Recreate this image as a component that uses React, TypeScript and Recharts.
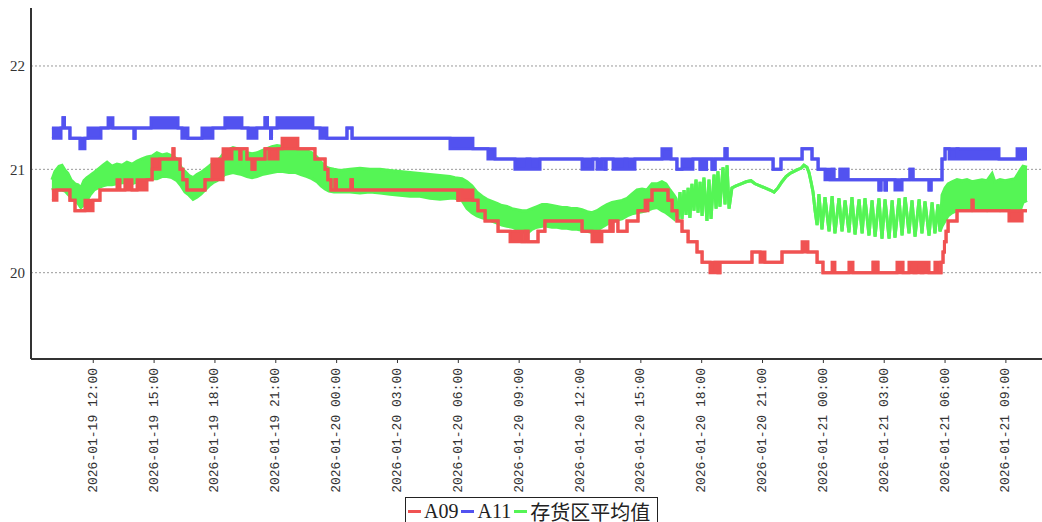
import React from "react";
import { ComposedChart, Area, XAxis, YAxis, CartesianGrid } from "recharts";

// time axis is hours counted from 2026-01-19 00:00
const xTicks = [12, 15, 18, 21, 24, 27, 30, 33, 36, 39, 42, 45, 48, 51, 54, 57];
const xTickLabels = [
  "2026-01-19 12:00", "2026-01-19 15:00", "2026-01-19 18:00", "2026-01-19 21:00",
  "2026-01-20 00:00", "2026-01-20 03:00", "2026-01-20 06:00", "2026-01-20 09:00",
  "2026-01-20 12:00", "2026-01-20 15:00", "2026-01-20 18:00", "2026-01-20 21:00",
  "2026-01-21 00:00", "2026-01-21 03:00", "2026-01-21 06:00", "2026-01-21 09:00",
];
const yTicks = [20, 21, 22];

// [hour, low, high?] – high missing means a plain line at low,
// low/high pairs are the stretches where the reading flips quickly between two values
const a09: number[][] = [
  [9.96, 20.7, 20.8], [10.21, 20.8], [10.85, 20.7], [11.1, 20.6], [11.59, 20.6, 20.7],
  [11.99, 20.7], [12.33, 20.8], [13.17, 20.8, 20.9], [13.32, 20.8], [13.56, 20.8, 20.9],
  [13.91, 20.8], [14.16, 20.8, 20.9], [14.65, 20.9], [14.9, 21.0, 21.1], [15.29, 21.1],
  [15.93, 21.2], [15.98, 21.1], [16.28, 21.0], [16.42, 20.9], [16.62, 20.8],
  [17.51, 20.9], [17.85, 20.9, 21.1], [18.4, 21.1, 21.2], [18.84, 21.2], [19.23, 21.1],
  [19.28, 21.2], [19.58, 21.1], [19.83, 21.0], [19.97, 21.1], [20.47, 21.2],
  [20.66, 21.1, 21.2], [21.11, 21.2], [21.31, 21.2, 21.3], [22.09, 21.2], [22.93, 21.1],
  [23.43, 21.0], [23.57, 20.9], [23.72, 20.8], [23.92, 20.9], [23.99, 20.8],
  [24.71, 20.9], [24.78, 20.8], [29.98, 20.7], [30.03, 20.8], [30.18, 20.7, 20.8],
  [30.72, 20.7], [30.97, 20.6], [31.32, 20.5], [31.96, 20.4], [32.55, 20.3, 20.4],
  [33.14, 20.3], [33.29, 20.4], [33.44, 20.3], [33.93, 20.4], [34.27, 20.5],
  [36.1, 20.4], [36.59, 20.3, 20.4], [37.08, 20.4], [37.48, 20.5], [37.58, 20.4],
  [37.63, 20.5], [37.87, 20.4], [38.32, 20.5], [38.86, 20.6], [39.21, 20.6, 20.7],
  [39.35, 20.7], [39.55, 20.8], [40.34, 20.7], [40.54, 20.6], [40.78, 20.5],
  [41.03, 20.4], [41.33, 20.3], [41.77, 20.2], [42.02, 20.1], [42.41, 20.0, 20.1],
  [42.66, 20.1], [42.8, 20.0], [42.9, 20.1], [44.48, 20.2], [44.88, 20.1, 20.2],
  [45.12, 20.1], [45.96, 20.2], [46.95, 20.2, 20.3], [47.24, 20.2], [47.69, 20.1],
  [47.98, 20.0], [48.43, 20.0, 20.1], [48.57, 20.0], [49.26, 20.0, 20.1], [49.46, 20.0],
  [50.45, 20.1], [50.5, 20.0], [50.64, 20.1], [50.69, 20.0], [51.63, 20.0, 20.1],
  [51.93, 20.0], [52.22, 20.0, 20.1], [52.47, 20.0], [52.57, 20.0, 20.1], [52.82, 20.0],
  [52.91, 20.0, 20.1], [53.21, 20.0], [53.5, 20.0, 20.1], [53.65, 20.0], [53.8, 20.1],
  [53.9, 20.2], [53.97, 20.3], [54.05, 20.4], [54.15, 20.5], [54.59, 20.6],
  [55.33, 20.7], [55.38, 20.6], [57.15, 20.5, 20.6], [57.8, 20.6], [58.04, 20.6],
];

const a11: number[][] = [
  [9.96, 21.3, 21.4], [10.41, 21.4], [10.51, 21.5], [10.58, 21.4], [10.85, 21.3],
  [11.34, 21.2, 21.3], [11.59, 21.3], [11.74, 21.3, 21.4], [12.38, 21.4], [12.73, 21.4, 21.5],
  [12.97, 21.4], [14.01, 21.3], [14.06, 21.4], [14.85, 21.4, 21.5], [16.18, 21.4],
  [16.37, 21.3, 21.4], [16.67, 21.3], [17.36, 21.3, 21.4], [17.9, 21.4], [18.49, 21.4, 21.5],
  [19.33, 21.4], [19.63, 21.3, 21.4], [20.07, 21.4], [20.47, 21.5], [20.59, 21.4],
  [20.74, 21.3], [20.79, 21.4], [21.06, 21.4, 21.5], [22.83, 21.4], [23.18, 21.3, 21.4],
  [23.52, 21.3], [24.51, 21.4], [24.76, 21.3], [29.59, 21.2, 21.3], [30.72, 21.2],
  [31.46, 21.1, 21.2], [31.81, 21.1], [32.79, 21.0, 21.1], [33.39, 21.1], [33.53, 21.0, 21.1],
  [34.03, 21.1], [36.1, 21.0, 21.1], [36.64, 21.1], [36.84, 21.0, 21.1], [37.08, 21.1],
  [37.23, 21.0], [37.28, 21.1], [37.63, 21.0, 21.1], [38.22, 21.1], [38.32, 21.0, 21.1],
  [38.71, 21.1], [40.04, 21.1, 21.2], [40.49, 21.1], [40.78, 21.0], [41.03, 21.0, 21.1],
  [41.57, 21.1], [41.92, 21.0], [42.06, 21.1], [42.16, 21.0], [42.24, 21.1],
  [42.51, 21.0], [42.66, 21.1], [43.15, 21.2], [43.25, 21.1], [45.52, 21.0],
  [45.91, 21.1], [46.95, 21.2], [47.44, 21.1], [47.74, 21.0], [48.08, 20.9, 21.0],
  [48.33, 20.9], [48.43, 21.0], [48.52, 20.9], [48.82, 21.0], [48.92, 20.9],
  [49.07, 21.0], [49.21, 20.9], [50.74, 20.8], [50.84, 20.9], [51.04, 20.8],
  [51.11, 20.9], [51.53, 20.8, 20.9], [51.88, 20.9], [52.27, 21.0], [52.42, 20.9],
  [53.21, 20.8], [53.31, 20.9], [53.85, 21.1], [54.0, 21.2], [54.2, 21.1, 21.2],
  [54.59, 21.2], [54.64, 21.1, 21.2], [56.66, 21.1], [57.55, 21.1, 21.2], [57.7, 21.1],
  [57.8, 21.1, 21.2], [58.04, 21.1, 21.2],
];

// average of the storage zone: noisy band, later a single swinging line
const avgZone: number[][] = [
  [9.96, 20.8, 20.9], [10.11, 20.82, 20.98], [10.31, 20.8, 21.03], [10.46, 20.8, 21.04],
  [10.61, 20.79, 20.99], [10.75, 20.76, 20.96], [10.9, 20.73, 20.9], [11.1, 20.7, 20.86],
  [11.25, 20.67, 20.85], [11.39, 20.63, 20.82], [11.54, 20.66, 20.89], [11.69, 20.7, 20.92],
  [11.84, 20.75, 20.94], [12.04, 20.8, 20.97], [12.23, 20.82, 21.0], [12.48, 20.84, 21.04],
  [12.68, 20.85, 21.07], [12.92, 20.85, 21.03], [13.17, 20.86, 21.05], [13.42, 20.87, 21.04],
  [13.66, 20.87, 21.07], [13.91, 20.86, 21.05], [14.16, 20.88, 21.08], [14.4, 20.89, 21.1],
  [14.65, 20.9, 21.12], [14.9, 20.91, 21.13], [15.14, 20.91, 21.16], [15.39, 20.93, 21.14],
  [15.63, 20.93, 21.15], [15.88, 20.92, 21.13], [16.13, 20.89, 21.1], [16.33, 20.84, 21.02],
  [16.52, 20.78, 20.98], [16.72, 20.75, 20.94], [16.92, 20.71, 20.92], [17.11, 20.73, 20.95],
  [17.31, 20.76, 20.97], [17.51, 20.8, 21.0], [17.71, 20.84, 21.03], [17.9, 20.87, 21.06],
  [18.1, 20.89, 21.08], [18.3, 20.92, 21.12], [18.49, 20.95, 21.17], [18.69, 20.96, 21.19],
  [18.89, 20.97, 21.21], [19.09, 20.96, 21.2], [19.33, 20.95, 21.18], [19.58, 20.93, 21.16],
  [19.83, 20.92, 21.15], [20.07, 20.93, 21.16], [20.32, 20.95, 21.18], [20.57, 20.96, 21.2],
  [20.81, 20.97, 21.22], [21.06, 20.98, 21.23], [21.35, 20.98, 21.22], [21.65, 20.97, 21.21],
  [21.95, 20.97, 21.2], [22.24, 20.95, 21.19], [22.54, 20.93, 21.18], [22.78, 20.91, 21.16],
  [23.03, 20.88, 21.12], [23.23, 20.84, 21.07], [23.43, 20.81, 21.03], [23.62, 20.79, 21.01],
  [23.87, 20.78, 21.0], [24.17, 20.78, 20.99], [24.66, 20.78, 21.0], [25.15, 20.77, 21.01],
  [25.64, 20.78, 21.0], [26.14, 20.77, 21.0], [26.63, 20.76, 20.99], [27.12, 20.75, 20.98],
  [27.62, 20.74, 20.97], [28.11, 20.74, 20.96], [28.6, 20.72, 20.95], [29.1, 20.71, 20.94],
  [29.59, 20.72, 20.93], [29.84, 20.72, 20.92], [30.18, 20.7, 20.91], [30.43, 20.62, 20.88],
  [30.67, 20.58, 20.84], [30.92, 20.55, 20.78], [31.17, 20.53, 20.74], [31.41, 20.52, 20.71],
  [31.66, 20.5, 20.69], [31.91, 20.48, 20.67], [32.15, 20.46, 20.65], [32.4, 20.45, 20.64],
  [32.65, 20.44, 20.62], [32.89, 20.42, 20.61], [33.14, 20.4, 20.6], [33.39, 20.38, 20.6],
  [33.63, 20.42, 20.62], [33.88, 20.44, 20.64], [34.13, 20.45, 20.66], [34.37, 20.45, 20.66],
  [34.62, 20.44, 20.65], [34.87, 20.44, 20.64], [35.11, 20.43, 20.63], [35.36, 20.43, 20.63],
  [35.61, 20.42, 20.62], [35.85, 20.42, 20.62], [36.1, 20.41, 20.61], [36.35, 20.4, 20.59],
  [36.59, 20.39, 20.58], [36.84, 20.41, 20.6], [37.08, 20.44, 20.63], [37.33, 20.47, 20.66],
  [37.58, 20.49, 20.68], [37.82, 20.51, 20.69], [38.07, 20.52, 20.7], [38.32, 20.55, 20.72],
  [38.56, 20.57, 20.76], [38.81, 20.58, 20.8], [39.06, 20.59, 20.81], [39.3, 20.6, 20.8],
  [39.55, 20.62, 20.86], [39.8, 20.63, 20.86], [40.04, 20.6, 20.88], [40.24, 20.58, 20.86],
  [40.44, 20.55, 20.8], [40.63, 20.52, 20.75],
  [40.73, 20.72], [40.83, 20.5], [40.93, 20.78], [41.03, 20.52], [41.13, 20.8],
  [41.23, 20.56], [41.33, 20.82], [41.42, 20.53], [41.52, 20.86], [41.62, 20.6],
  [41.72, 20.9], [41.82, 20.58], [41.92, 20.88], [42.02, 20.55], [42.11, 20.92],
  [42.26, 20.5], [42.36, 20.9], [42.46, 20.52], [42.61, 20.95], [42.71, 20.62],
  [42.8, 20.98], [42.9, 20.64], [43.05, 21.02], [43.15, 20.66], [43.25, 21.04],
  [43.35, 20.62], [43.49, 20.82], [43.69, 20.84], [43.94, 20.86], [44.19, 20.88],
  [44.43, 20.89], [44.63, 20.86], [44.88, 20.84], [45.12, 20.82], [45.37, 20.8],
  [45.57, 20.78], [45.76, 20.82], [45.96, 20.88], [46.16, 20.93], [46.35, 20.96],
  [46.55, 20.98], [46.75, 21.0], [46.9, 21.01], [47.04, 21.04], [47.19, 21.02],
  [47.29, 20.97], [47.39, 20.88], [47.49, 20.78], [47.59, 20.6], [47.69, 20.46],
  [47.78, 20.76], [47.93, 20.42], [48.08, 20.73], [48.28, 20.4], [48.43, 20.74],
  [48.57, 20.38], [48.77, 20.72], [48.92, 20.4], [49.07, 20.7], [49.26, 20.39],
  [49.41, 20.73], [49.56, 20.37], [49.76, 20.71], [49.91, 20.38], [50.05, 20.72],
  [50.25, 20.36], [50.4, 20.7], [50.55, 20.35], [50.74, 20.72], [50.89, 20.33],
  [51.04, 20.71], [51.24, 20.33], [51.39, 20.7], [51.53, 20.34], [51.73, 20.72],
  [51.88, 20.36], [52.03, 20.73], [52.22, 20.38], [52.37, 20.7], [52.52, 20.35],
  [52.72, 20.71], [52.86, 20.38], [53.01, 20.69], [53.21, 20.36], [53.36, 20.68],
  [53.5, 20.38], [53.65, 20.66], [53.75, 20.4],
  [53.85, 20.45, 20.75], [54.0, 20.5, 20.82], [54.15, 20.55, 20.86], [54.34, 20.58, 20.88],
  [54.59, 20.6, 20.9], [54.84, 20.62, 20.89], [55.08, 20.61, 20.9], [55.33, 20.6, 20.88],
  [55.58, 20.62, 20.89], [55.82, 20.61, 20.9], [56.07, 20.6, 20.89], [56.32, 20.62, 20.96],
  [56.46, 20.61, 20.88], [56.71, 20.6, 20.9], [56.96, 20.62, 20.89], [57.2, 20.6, 20.9],
  [57.45, 20.61, 20.91], [57.7, 20.6, 20.99], [57.84, 20.68, 21.03], [58.04, 20.7, 21.02],
];

const series = [
  { name: "A09", color: "#f05252", points: a09, curve: "stepAfter" },
  { name: "A11", color: "#5252f0", points: a11, curve: "stepAfter" },
  { name: "存货区平均值", color: "#55f555", points: avgZone, curve: "linear" },
];

const toRows = (pts: number[][]) =>
  pts.map((p) => ({ t: p[0], r: [p[1], p.length > 2 ? p[2] : p[1]] }));

const XTick = (props: any) => {
  const { x, y, payload, index } = props;
  const label = xTickLabels[xTicks.indexOf(payload.value)] ?? xTickLabels[index];
  return (
    <text
      x={x}
      y={y}
      transform={`rotate(-90, ${x}, ${y})`}
      textAnchor="end"
      dominantBaseline="central"
      fontSize={13}
      fontFamily="'Liberation Mono', 'DejaVu Sans Mono', monospace"
      fill="#333"
    >
      {label}
    </text>
  );
};

export default function App() {
  // draw order: average first, then A11, then A09 on top
  const drawOrder = [series[2], series[1], series[0]];
  return (
    <div style={{ position: "absolute", left: 0, top: 0, width: 1042, height: 522, background: "#fff", overflow: "hidden" }}>
      <ComposedChart width={1042} height={522} margin={{ top: 8, right: 0, bottom: 0, left: 0 }}>
        <CartesianGrid vertical={false} syncWithTicks stroke="#999" strokeDasharray="2 2" />
        <XAxis
          type="number"
          dataKey="t"
          domain={[8.93, 58.78]}
          allowDataOverflow
          ticks={xTicks}
          interval={0}
          height={163}
          tickSize={4}
          tickMargin={5}
          axisLine={{ stroke: "#333", strokeWidth: 2 }}
          tickLine={{ stroke: "#333" }}
          tick={(p: any) => <XTick {...p} />}
        />
        <YAxis
          type="number"
          domain={[19.165, 22.561]}
          allowDataOverflow
          ticks={yTicks}
          interval={0}
          width={31}
          tickLine={false}
          tickSize={3}
          tickMargin={3}
          axisLine={{ stroke: "#333", strokeWidth: 2 }}
          tick={{ fill: "#333", fontSize: 15, fontFamily: "'Liberation Serif', serif" }}
        />
        {drawOrder.map((s) => (
          <Area
            key={s.name}
            data={toRows(s.points)}
            dataKey="r"
            name={s.name}
            type={s.curve as any}
            stroke={s.color}
            strokeWidth={3}
            fill={s.color}
            fillOpacity={1}
            dot={false}
            activeDot={false}
            isAnimationActive={false}
          />
        ))}
      </ComposedChart>
      <div
        style={{
          position: "absolute",
          left: 405,
          top: 497,
          height: 28,
          display: "flex",
          alignItems: "center",
          border: "1px solid #222",
          boxSizing: "border-box",
          padding: "0 4px 0 2px",
          background: "#fff",
          fontSize: 20,
          fontFamily: "'Liberation Serif', 'Noto Sans CJK SC', serif",
          color: "#222",
          whiteSpace: "nowrap",
        }}
      >
        {series.map((s) => (
          <span key={s.name} style={{ display: "flex", alignItems: "center", marginRight: 3 }}>
            <span style={{ display: "inline-block", width: 13, height: 3, background: s.color, marginRight: 3 }} />
            {s.name}
          </span>
        ))}
      </div>
    </div>
  );
}
